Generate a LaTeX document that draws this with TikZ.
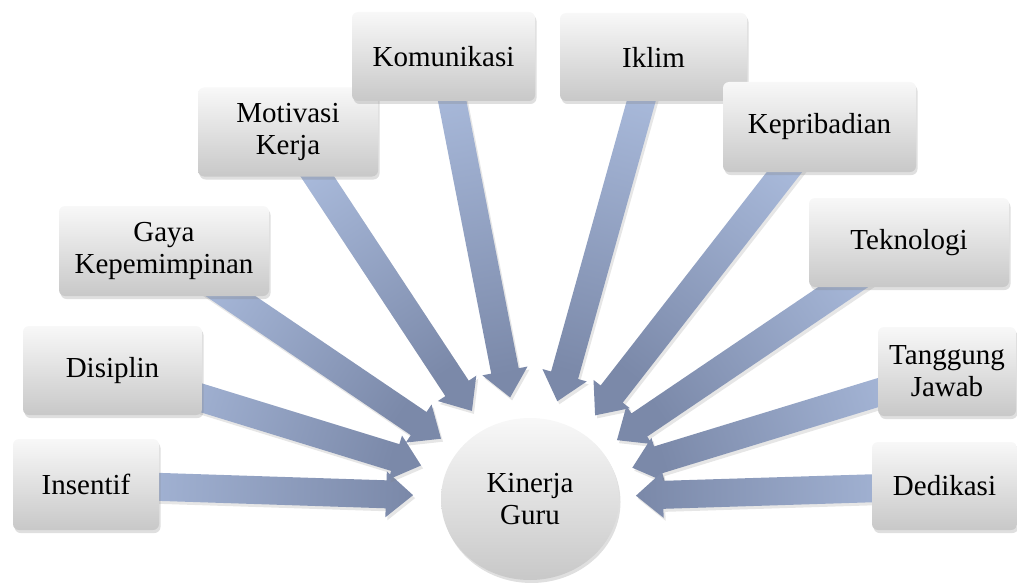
\documentclass[tikz,border=0pt]{standalone}
\usepackage{fontspec}
\setmainfont{Liberation Serif}
\usetikzlibrary{calc,shadows,shapes.geometric,backgrounds}
\definecolor{arrowlight}{HTML}{AABBDC}
\definecolor{arrowdark}{HTML}{7B89A9}
\definecolor{boxtop}{HTML}{F8F8F8}
\definecolor{boxbot}{HTML}{C8C8C8}
\tikzset{
  factor/.style={rounded corners=6pt, top color=boxtop, bottom color=boxbot,
    align=center, inner sep=0pt, font=\fontsize{29}{32}\selectfont,
    drop shadow={shadow xshift=1.5pt, shadow yshift=-3pt, opacity=0.25}},
  centre/.style={ellipse, top color=boxtop, bottom color=boxbot,
    align=center, inner sep=0pt, font=\fontsize{29}{32}\selectfont,
    minimum width=178pt, minimum height=162pt,
    drop shadow={shadow xshift=1.5pt, shadow yshift=-3pt, opacity=0.25}},
  blockarrow/.style={left color=arrowlight, right color=arrowdark,
    drop shadow={shadow xshift=2pt, shadow yshift=-3pt, opacity=0.2}}
}
% #1 = box name, #2 = distance of the tip from the centre of kg
\newcommand\flowarrow[2]{%
  \pgfmathanglebetweenpoints{\pgfpointanchor{#1}{center}}{\pgfpointanchor{kg}{center}}%
  \pgfmathsetmacro\arrang{\pgfmathresult+90}%
  \pgfmathsetmacro\headd{#2+27}%
  \coordinate (#1-s) at (#1.center);
  \coordinate (#1-t) at ($(kg.center)!#2pt!(#1.center)$);
  \coordinate (#1-h) at ($(kg.center)!\headd pt!(#1.center)$);
  \path[blockarrow, shading angle=\arrang]
    ($(#1-s)!14pt!90:(#1-t)$) -- ($(#1-h)!14pt!90:(#1-t)$) --
    ($(#1-h)!23pt!90:(#1-t)$) -- (#1-t) --
    ($(#1-h)!23pt!-90:(#1-t)$) -- ($(#1-h)!14pt!-90:(#1-t)$) --
    ($(#1-s)!14pt!-90:(#1-t)$) -- cycle;
}
\begin{document}
\begin{tikzpicture}[x=1pt,y=-1pt]
\useasboundingbox (0,0) rectangle (1017,583);
% boxes
\node[factor, minimum width=146pt, minimum height=91pt] (insentif) at (86,484.5) {Insentif};
\node[factor, minimum width=179pt, minimum height=89pt] (disiplin) at (112.5,370.5) {Disiplin};
\node[factor, minimum width=210pt, minimum height=90pt] (gaya) at (164,251) {Gaya\\Kepemimpinan};
\node[factor, minimum width=180pt, minimum height=89pt] (motivasi) at (288,132) {Motivasi\\Kerja};
\node[factor, minimum width=183pt, minimum height=89pt] (komunikasi) at (443.5,56.5) {Komunikasi};
\node[factor, minimum width=187pt, minimum height=88pt] (iklim) at (653.5,57) {Iklim};
\node[factor, minimum width=193pt, minimum height=90pt] (kepribadian) at (819.5,127) {Kepribadian};
\node[factor, minimum width=200pt, minimum height=89pt] (teknologi) at (909,242.5) {Teknologi};
\node[factor, minimum width=138pt, minimum height=89pt] (tanggung) at (947,371.5) {Tanggung\\Jawab};
\node[factor, minimum width=145pt, minimum height=88pt] (dedikasi) at (944.5,486) {Dedikasi};
\node[centre] (kg) at (530,499) {Kinerja\\Guru};
% arrows
\begin{scope}[on background layer]
\flowarrow{insentif}{117}
\flowarrow{disiplin}{114}
\flowarrow{gaya}{107.5}
\flowarrow{motivasi}{105.5}
\flowarrow{komunikasi}{103.5}
\flowarrow{iklim}{101.5}
\flowarrow{kepribadian}{106}
\flowarrow{teknologi}{105}
\flowarrow{tanggung}{107}
\flowarrow{dedikasi}{106}
\end{scope}
\end{tikzpicture}
\end{document}
